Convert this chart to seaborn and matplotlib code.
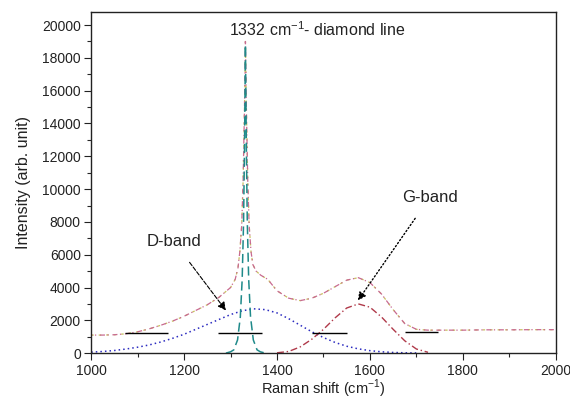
import numpy as np
import pandas as pd
import matplotlib
matplotlib.use("Agg")
import matplotlib.pyplot as plt
from matplotlib.ticker import MultipleLocator
import seaborn as sns

# --------------------------
# Data
# --------------------------
shift_total = [1000, 1025, 1050, 1075, 1100, 1125, 1150, 1175, 1200, 1225, 1250,
               1275, 1300, 1310, 1316, 1320, 1324, 1327, 1330, 1332, 1334, 1337,
               1340, 1344, 1348, 1355, 1365, 1380, 1400, 1425, 1450, 1475, 1500,
               1525, 1550, 1575, 1600, 1625, 1650, 1675, 1700, 1725, 1750, 1800,
               1850, 1900, 1950, 2000]
intensity_total = [1100, 1100, 1120, 1180, 1300, 1480, 1700, 1950, 2250, 2600, 2950,
                   3400, 4000, 4500, 5200, 6200, 7800, 10500, 15000, 19000, 15000, 10500,
                   7800, 6200, 5400, 5000, 4750, 4500, 3800, 3350, 3200, 3350, 3650,
                   4050, 4450, 4600, 4300, 3600, 2650, 1800, 1450, 1400, 1400, 1400,
                   1420, 1420, 1430, 1430]

shift_d = [1000, 1025, 1050, 1075, 1100, 1125, 1150, 1175, 1200, 1225, 1250, 1275,
           1300, 1325, 1350, 1375, 1400, 1425, 1450, 1475, 1500, 1525, 1550, 1575,
           1600, 1625, 1650, 1675, 1700]
intensity_d = [60, 100, 160, 250, 360, 500, 680, 900, 1150, 1450, 1750, 2050,
               2350, 2580, 2700, 2650, 2450, 2100, 1700, 1300, 950, 650, 420, 260,
               150, 80, 40, 20, 10]

shift_g = [1400, 1425, 1450, 1475, 1500, 1525, 1550, 1575, 1600, 1625, 1650, 1675,
           1700, 1725]
intensity_g = [20, 100, 380, 850, 1450, 2150, 2750, 3000, 2800, 2200, 1450, 750,
               250, 50]

shift_diamond = [1290, 1300, 1307, 1315, 1321, 1325, 1328, 1330, 1332, 1334, 1336,
                 1339, 1343, 1349, 1357, 1364, 1375]
intensity_diamond = [0, 80, 200, 800, 2200, 4500, 8000, 12500, 18800, 12500, 8000,
                     4500, 2200, 800, 200, 80, 0]

# baseline anchor segments
base_start = [1073, 1273, 1475, 1675]
base_end = [1165, 1368, 1550, 1746]
base_level = [1200, 1200, 1200, 1300]

# --------------------------
# Setup
# --------------------------
sns.set_style("ticks")
plt.rcParams["font.family"] = ["Liberation Sans", "DejaVu Sans"]
plt.rcParams["mathtext.fontset"] = "custom"
plt.rcParams["mathtext.rm"] = "Liberation Sans"

fig = plt.figure(figsize=(5.7, 3.99), dpi=100)
ax = fig.add_axes([0.160, 0.115, 0.815, 0.855])

total = pd.DataFrame({"shift": shift_total, "intensity": intensity_total})
dband = pd.DataFrame({"shift": shift_d, "intensity": intensity_d})
gband = pd.DataFrame({"shift": shift_g, "intensity": intensity_g})
diamond = pd.DataFrame({"shift": shift_diamond, "intensity": intensity_diamond})

# measured spectrum + fitted sum
sns.lineplot(data=total, x="shift", y="intensity", ax=ax, color="#c8c060",
             linewidth=0.9, linestyle=(0, (2, 4)), estimator=None, sort=False)
sns.lineplot(data=total, x="shift", y="intensity", ax=ax, color="#c86a90",
             linewidth=0.9, linestyle=(3, (4, 2, 1, 3)), estimator=None, sort=False)
# components
sns.lineplot(data=dband, x="shift", y="intensity", ax=ax, color="#2b2bc0",
             linewidth=1.1, linestyle=(0, (1, 2)), estimator=None, sort=False)
sns.lineplot(data=gband, x="shift", y="intensity", ax=ax, color="#b03a4a",
             linewidth=1.0, linestyle=(0, (5, 2, 1, 2)), estimator=None, sort=False)
sns.lineplot(data=diamond, x="shift", y="intensity", ax=ax, color="#1f8a8a",
             linewidth=1.1, linestyle=(0, (6, 3)), estimator=None, sort=False)

ax.hlines(base_level, base_start, base_end, colors="black", linewidth=1.0)

# annotations
ax.text(1297, 19700, "1332 cm$^{-1}$- diamond line", fontsize=11.5, ha="left",
        va="center", color="#222222")
ax.annotate("D-band", xy=(1290, 2600), xytext=(1178, 6800), fontsize=12,
            ha="center", va="center", color="#222222",
            arrowprops=dict(arrowstyle="-|>", color="black", linestyle="--",
                            linewidth=0.8, shrinkA=9, shrinkB=0))
ax.annotate("G-band", xy=(1574, 3200), xytext=(1729, 9500), fontsize=12,
            ha="center", va="center", color="#222222",
            arrowprops=dict(arrowstyle="-|>", color="black", linestyle=":",
                            linewidth=1.0, shrinkA=9, shrinkB=0))

ax.set_xlim(1000, 2000)
ax.set_ylim(0, 20800)
ax.xaxis.set_major_locator(MultipleLocator(200))
ax.xaxis.set_minor_locator(MultipleLocator(100))
ax.yaxis.set_major_locator(MultipleLocator(2000))
ax.yaxis.set_minor_locator(MultipleLocator(1000))
ax.tick_params(axis="both", which="major", length=5, width=0.8, labelsize=10,
               colors="#222222", direction="out", pad=2.5)
ax.tick_params(axis="both", which="minor", length=3, width=0.8, direction="out")
ax.tick_params(top=False, right=False)
for s in ax.spines.values():
    s.set_visible(True)
    s.set_linewidth(1.0)
    s.set_color("#222222")

ax.set_xlabel("Raman shift (cm$^{-1}$)", fontsize=10.5, color="#222222", labelpad=0)
ax.set_ylabel("Intensity (arb. unit)", fontsize=11.5, color="#222222", labelpad=8)

plt.savefig("out.png", dpi=100)
plt.close()
